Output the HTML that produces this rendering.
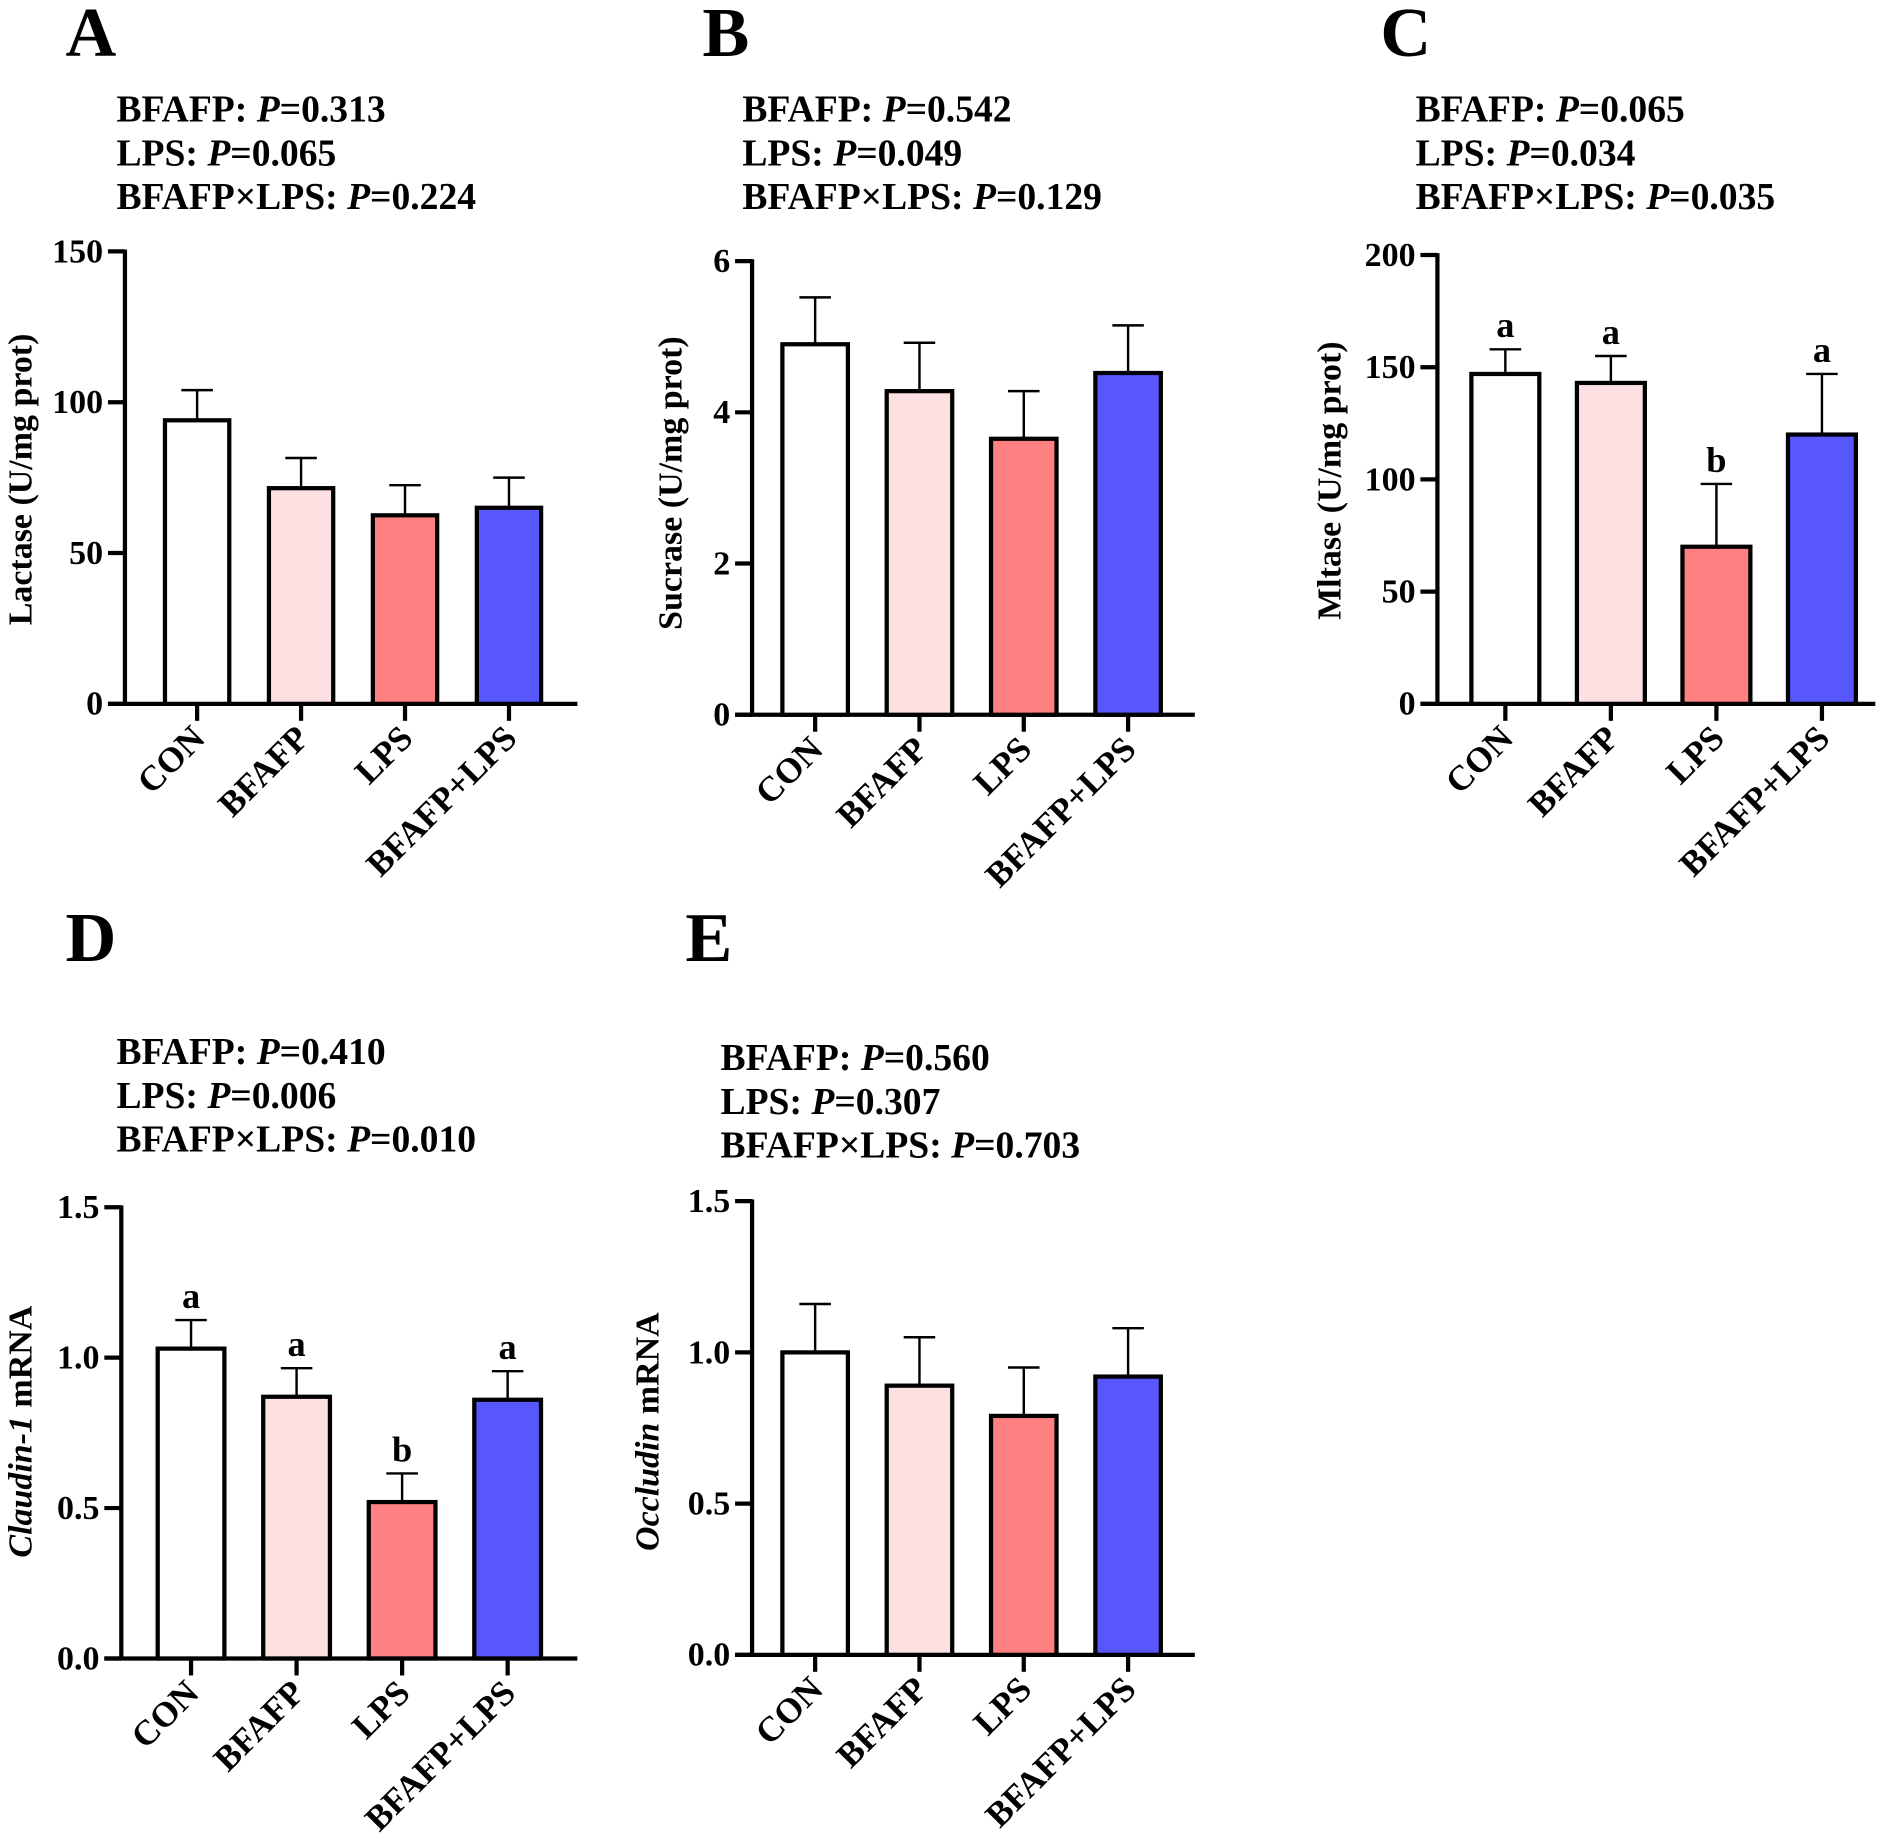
<!DOCTYPE html>
<html><head><meta charset="utf-8">
<style>html,body{margin:0;padding:0;background:#fff}svg{display:block}</style>
</head><body>
<svg id="fig" width="1902" height="1848" viewBox="0 0 1568 1523" xmlns="http://www.w3.org/2000/svg" font-family="'Liberation Serif', serif" font-weight="bold"></svg>
<script>
const categories = ["CON","BFAFP","LPS","BFAFP+LPS"];
const colors = ["#ffffff","#fde0e1","#ff8080","#5757fb"];
const lactaseMean = [94, 71.5, 62.5, 65];
const lactaseErr = [10, 10, 10, 10];
const sucraseMean = [4.9, 4.28, 3.65, 4.52];
const sucraseErr = [0.62, 0.64, 0.63, 0.63];
const maltaseMean = [147, 143, 70, 120];
const maltaseErr = [11, 12, 28, 27];
const maltaseLetters = ["a","a","b","a"];
const claudinMean = [1.03, 0.87, 0.52, 0.86];
const claudinErr = [0.095, 0.095, 0.095, 0.095];
const claudinLetters = ["a","a","b","a"];
const occludinMean = [1.0, 0.89, 0.79, 0.92];
const occludinErr = [0.16, 0.16, 0.16, 0.16];
const ticksA = [0,50,100,150];
const ticksB = [0,2,4,6];
const ticksC = [0,50,100,150,200];
const ticksDE = ["0.0","0.5","1.0","1.5"];

const NS = "http://www.w3.org/2000/svg";
const svg = document.getElementById("fig");
function mk(tag, attrs, parent, text){
  const e = document.createElementNS(NS, tag);
  for (const k in attrs) e.setAttribute(k, attrs[k]);
  if (text !== undefined) e.textContent = text;
  (parent||svg).appendChild(e);
  return e;
}

function panel(cfg){
  const g = mk("g", {});
  
  
  const L = mk("text", {x:cfg.lx, y:cfg.ly, "font-size":58}, g, cfg.letter);
  
  
  cfg.stats.forEach((s,i)=>{
    const t = mk("text", {x:cfg.tx, y:cfg.ty + i*36, "font-size":31}, g);
    
    
    mk("tspan", {}, t, s[0] + ": ");
    mk("tspan", {"font-style":"italic"}, t, "P");
    mk("tspan", {}, t, "=" + s[1]);
  });
  const ax = cfg.ax, y0 = cfg.y0, yTop = cfg.yTop, maxV = cfg.max;
  const yS = v => y0 - (v / maxV) * (y0 - yTop);
  const yl = mk("line", {x1:ax, y1:yTop-1.5, x2:ax, y2:y0, stroke:"#000","stroke-width":3.5}, g);
  
  
  cfg.ticks.forEach(tv=>{
    const v = parseFloat(tv);
    const yy = yS(v);
    mk("line", {x1:ax-14, y1:yy, x2:ax, y2:yy, stroke:"#000","stroke-width":3.5}, g);
    const tl = mk("text", {x:ax-18, y:yy+9, "font-size":28, "text-anchor":"end"}, g, String(tv));
    
    
  });
  const xl = mk("line", {x1:ax-14, y1:y0, x2:cfg.xEnd, y2:y0, stroke:"#000","stroke-width":3.5}, g);
  
  
  const yt = mk("text", {transform:`translate(${cfg.ytx},${cfg.yty}) rotate(-90)`, "font-size":28, "text-anchor":"middle"}, g);
  
  
  cfg.ytitle.forEach(p=>mk("tspan", p[1]?{"font-style":"italic"}:{}, yt, p[0]));
  const bw = cfg.bw;
  categories.forEach((c,i)=>{
    const cx = cfg.x0 + i*cfg.step;
    const top = yS(cfg.mean[i]);
    const et = yS(cfg.mean[i] + cfg.err[i]);
    const el = mk("line", {x1:cx, y1:et, x2:cx, y2:top, stroke:"#000","stroke-width":2}, g);
    
    
    mk("line", {x1:cx-13, y1:et, x2:cx+13, y2:et, stroke:"#000","stroke-width":2}, g);
    const b = mk("rect", {x:cx-bw/2, y:top, width:bw, height:y0-top, fill:colors[i], stroke:"#000","stroke-width":3.5}, g);
    
    
    if (cfg.letters){
      const lt = mk("text", {x:cx, y:et-10, "font-size":30, "text-anchor":"middle"}, g, cfg.letters[i]);
      
      
    }
    mk("line", {x1:cx, y1:y0, x2:cx, y2:y0+14, stroke:"#000","stroke-width":3.5}, g);
    const xt = mk("text", {transform:`translate(${cx+8},${y0+30}) rotate(-45)`, "font-size":29, "text-anchor":"end"}, g, c);
    
    
  });
}

panel({name:"panel-a-lactase", letter:"A", lx:54, ly:46, tx:96, ty:100, stats:[["BFAFP","0.313"],["LPS","0.065"],["BFAFP×LPS","0.224"]],
  ax:103, y0:580, yTop:207, max:150, ticks:ticksA, xEnd:476, x0:162.5, step:85.7, bw:53,
  mean:lactaseMean, err:lactaseErr, ytx:26, yty:395, ytitle:[["Lactase  (U/mg prot)",false]]});
panel({name:"panel-b-sucrase", letter:"B", lx:579, ly:46, tx:612, ty:100, stats:[["BFAFP","0.542"],["LPS","0.049"],["BFAFP×LPS","0.129"]],
  ax:620, y0:589, yTop:215, max:6, ticks:ticksB, xEnd:985, x0:672, step:86, bw:54,
  mean:sucraseMean, err:sucraseErr, ytx:562, yty:398, ytitle:[["Sucrase (U/mg prot)",false]]});
panel({name:"panel-c-maltase", letter:"C", lx:1138, ly:46, tx:1167, ty:100, stats:[["BFAFP","0.065"],["LPS","0.034"],["BFAFP×LPS","0.035"]],
  ax:1185, y0:580, yTop:210, max:200, ticks:ticksC, xEnd:1546, x0:1241, step:87, bw:56,
  mean:maltaseMean, err:maltaseErr, letters:maltaseLetters, ytx:1105, yty:396, ytitle:[["Mltase (U/mg prot)",false]]});
panel({name:"panel-d-claudin", letter:"D", lx:54, ly:792, tx:96, ty:877, stats:[["BFAFP","0.410"],["LPS","0.006"],["BFAFP×LPS","0.010"]],
  ax:100, y0:1367, yTop:995, max:1.5, ticks:ticksDE, xEnd:476, x0:157.5, step:87, bw:55,
  mean:claudinMean, err:claudinErr, letters:claudinLetters, ytx:26, yty:1180, ytitle:[["Claudin-1",true],[" mRNA",false]]});
panel({name:"panel-e-occludin", letter:"E", lx:565, ly:792, tx:594, ty:882, stats:[["BFAFP","0.560"],["LPS","0.307"],["BFAFP×LPS","0.703"]],
  ax:620, y0:1364, yTop:990, max:1.5, ticks:ticksDE, xEnd:985, x0:672, step:86, bw:54,
  mean:occludinMean, err:occludinErr, ytx:543, yty:1180, ytitle:[["Occludin",true],[" mRNA",false]]});
</script>
</body></html>
